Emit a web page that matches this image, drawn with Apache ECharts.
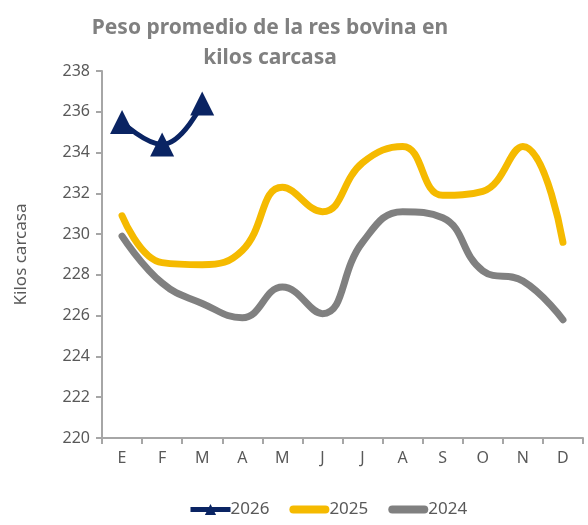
<!DOCTYPE html>
<html>
<head>
<meta charset="utf-8">
<script src="https://cdn.jsdelivr.net/npm/echarts@6/dist/echarts.min.js"></script>
<style>
  html, body { margin: 0; padding: 0; background: #fff; }
  #chart { width: 588px; height: 525px; }
</style>
</head>
<body>
<div id="chart"></div>
<script>
const months = ['E', 'F', 'M', 'A', 'M', 'J', 'J', 'A', 'S', 'O', 'N', 'D']
const y2026 = [235.5, 234.4, 236.4]
const y2025 = [230.9, 228.6, 228.5, 229.2, 232.3, 231.1, 233.5, 234.3, 231.9, 232.1, 234.3, 229.6]
const y2024 = [229.9, 227.6, 226.6, 225.9, 227.4, 226.1, 229.6, 231.1, 230.8, 228.2, 227.7, 225.8]

const font = 'Noto Sans'
const barIcon = 'path://M4,0 L36,0 A4,4 0 0 1 36,8 L4,8 A4,4 0 0 1 4,0 Z'
const chart = echarts.init(document.getElementById('chart'))

chart.setOption({
  animation: false,
  title: {
    text: 'Peso promedio de la res bovina en\nkilos carcasa',
    left: 265,
    top: 8,
    textAlign: 'center',
    textStyle: { color: '#808080', fontSize: 21, fontWeight: 'bold', fontFamily: font, lineHeight: 30 }
  },
  legend: {
    bottom: 2,
    left: 183,
    itemWidth: 40,
    itemHeight: 14,
    itemGap: 20,
    textStyle: { color: '#595959', fontSize: 17, fontFamily: font, padding: [0, 0, 0, -5] },
    data: [
      { name: '2026', lineStyle: { width: 5 } },
      { name: '2025', icon: barIcon },
      { name: '2024', icon: barIcon }
    ]
  },
  grid: { left: 102, right: 5, top: 71, bottom: 87 },
  xAxis: {
    type: 'category',
    data: months,
    boundaryGap: true,
    axisLine: { lineStyle: { color: '#A6A6A6', width: 2 } },
    axisTick: { show: true, length: 6, lineStyle: { color: '#A6A6A6', width: 2 } },
    axisLabel: { color: '#595959', fontSize: 16, fontFamily: font, margin: 12 }
  },
  yAxis: {
    type: 'value',
    min: 220,
    max: 238,
    interval: 2,
    name: 'Kilos carcasa',
    nameLocation: 'middle',
    nameGap: 72,
    nameTextStyle: { color: '#595959', fontSize: 17, fontFamily: font },
    axisLine: { show: true, lineStyle: { color: '#A6A6A6', width: 2 } },
    axisTick: { show: true, length: 6, lineStyle: { color: '#A6A6A6', width: 2 } },
    splitLine: { show: false },
    axisLabel: { color: '#595959', fontSize: 16, fontFamily: font, margin: 12 }
  },
  series: [
    {
      name: '2026',
      type: 'line',
      data: y2026,
      smooth: 0.45,
      symbol: 'triangle',
      symbolSize: 24,
      itemStyle: { color: '#0A2463' },
      lineStyle: { color: '#0A2463', width: 5 }
    },
    {
      name: '2025',
      type: 'line',
      data: y2025,
      smooth: 0.45,
      symbol: 'none',
      itemStyle: { color: '#F5BA00' },
      lineStyle: { color: '#F5BA00', width: 7, cap: 'round' }
    },
    {
      name: '2024',
      type: 'line',
      data: y2024,
      smooth: 0.45,
      symbol: 'none',
      itemStyle: { color: '#808080' },
      lineStyle: { color: '#808080', width: 7, cap: 'round' }
    }
  ]
})
</script>
</body>
</html>
